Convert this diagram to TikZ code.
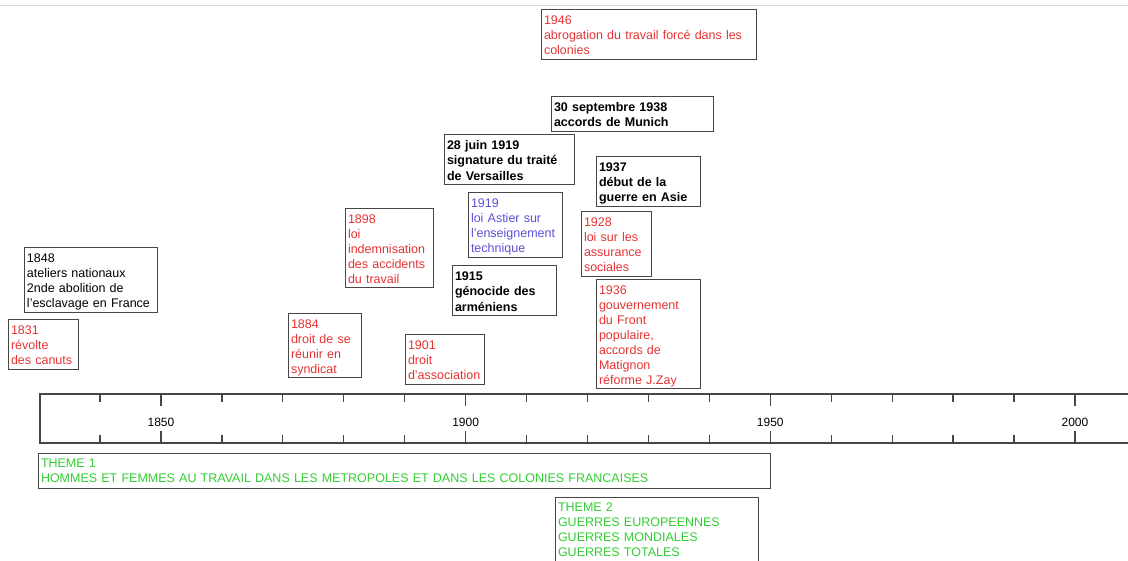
\documentclass[tikz,border=0pt]{standalone}
\usepackage{fontspec}
\setmainfont{Liberation Sans}
\definecolor{evred}{RGB}{230,50,50}
\definecolor{evblue}{RGB}{90,80,215}
\definecolor{evgreen}{RGB}{50,205,50}
\definecolor{frame}{RGB}{70,70,70}
\definecolor{topline}{RGB}{215,218,226}
\newcommand\mystrut{\rule[-2.6pt]{0pt}{15pt}}
\newcommand\TL[1]{\mbox{\mystrut#1}}
\newcommand\ap{\symbol{39}}
\setlength{\parindent}{0pt}
\tikzset{
  evbox/.style={draw=frame, line width=1pt, anchor=north west, outer sep=0pt,
    inner xsep=3pt, inner ysep=0pt, align=left, font=\fontsize{12.5}{15}\selectfont},
  evbold/.style={evbox, font=\fontsize{12.5}{15}\selectfont\bfseries, text=black},
  axisline/.style={draw=frame, line width=1.2pt},
  yearlbl/.style={font=\fontsize{12}{14}\selectfont, text=black, inner sep=0pt},
  topsep/.style={draw=topline, line width=1.5pt},
}
\begin{document}
\begin{tikzpicture}[x=1pt,y=-1pt]
\useasboundingbox (0,0) rectangle (1128,561);
\clip (0,0) rectangle (1128,561);
\draw[topsep] (0,5.5) -- (1128,5.5);

% events
\node[evbox, text=evred, minimum width=215pt, text width=209pt, minimum height=50pt] (n1946) at (541,10)
  {\TL{1946}\\\TL{abrogation du travail forcé dans les}\\\TL{colonies}};
\node[evbold, minimum width=162pt, text width=156pt, minimum height=35pt] (n1938) at (551,97)
  {\TL{30 septembre 1938}\\\TL{accords de Munich}};
\node[evbold, minimum width=130pt, text width=124pt, minimum height=50pt] (n1919v) at (444,135)
  {\TL{28 juin 1919}\\\TL{signature du traité}\\\TL{de Versailles}};
\node[evbold, minimum width=104pt, text width=98pt, minimum height=50pt] (n1937) at (596,157)
  {\TL{1937}\\\TL{début de la}\\\TL{guerre en Asie}};
\node[evbox, text=evblue, minimum width=94pt, text width=88pt, minimum height=65pt] (n1919a) at (468,193)
  {\TL{1919}\\\TL{loi Astier sur}\\\TL{l\ap enseignement}\\\TL{technique}};
\node[evbox, text=evred, minimum width=88pt, text width=82pt, minimum height=79pt] (n1898) at (345,209)
  {\TL{1898}\\\TL{loi}\\\TL{indemnisation}\\\TL{des accidents}\\\TL{du travail}};
\node[evbox, text=evred, minimum width=70pt, text width=64pt, minimum height=65pt] (n1928) at (581,212)
  {\TL{1928}\\\TL{loi sur les}\\\TL{assurance}\\\TL{sociales}};
\node[evbold, minimum width=104pt, text width=98pt, minimum height=50pt] (n1915) at (452,266)
  {\TL{1915}\\\TL{génocide des}\\\TL{arméniens}};
\node[evbox, text=black, minimum width=133pt, text width=127pt, minimum height=65pt] (n1848) at (24,248)
  {\TL{1848}\\\TL{ateliers nationaux}\\\TL{2nde abolition de}\\\TL{l\ap esclavage en France}};
\node[evbox, text=evred, minimum width=70pt, text width=64pt, minimum height=50pt] (n1831) at (8,320)
  {\TL{1831}\\\TL{révolte}\\\TL{des canuts}};
\node[evbox, text=evred, minimum width=73pt, text width=67pt, minimum height=64pt] (n1884) at (288,314)
  {\TL{1884}\\\TL{droit de se}\\\TL{réunir en}\\\TL{syndicat}};
\node[evbox, text=evred, minimum width=79pt, text width=73pt, minimum height=50pt] (n1901) at (405,335)
  {\TL{1901}\\\TL{droit}\\\TL{d\ap association}};
\node[evbox, text=evred, minimum width=104pt, text width=98pt, minimum height=109pt] (n1936) at (596,280)
  {\TL{1936}\\\TL{gouvernement}\\\TL{du Front}\\\TL{populaire,}\\\TL{accords de}\\\TL{Matignon}\\\TL{réforme J.Zay}};

% axis
\draw[axisline] (1130,394) -| (40,443) -- (1130,443);
\foreach \yr in {1840,1860,1870,1880,1890,1910,1920,1930,1940,1960,1970,1980,1990} {
  \draw[axisline] ({161+(\yr-1850)*6.093},394) -- ++(0,8);
  \draw[axisline] ({161+(\yr-1850)*6.093},443) -- ++(0,-8);
}
\foreach \yr in {1850,1900,1950,2000} {
  \draw[axisline] ({161+(\yr-1850)*6.093},394) -- ++(0,12);
  \draw[axisline] ({161+(\yr-1850)*6.093},443) -- ++(0,-12);
  \node[yearlbl] (y\yr) at ({161+(\yr-1850)*6.093},422) {\yr};
}

% themes
\node[evbox, text=evgreen, minimum width=732pt, text width=726pt, minimum height=35pt] (theme1) at (38,453)
  {\TL{THEME 1}\\\TL{HOMMES ET FEMMES AU TRAVAIL DANS LES METROPOLES ET DANS LES COLONIES FRANCAISES}};
\node[evbox, text=evgreen, minimum width=203pt, text width=197pt, minimum height=65pt] (theme2) at (555,497)
  {\TL{THEME 2}\\\TL{GUERRES EUROPEENNES}\\\TL{GUERRES MONDIALES}\\\TL{GUERRES TOTALES}};
\end{tikzpicture}
\end{document}
